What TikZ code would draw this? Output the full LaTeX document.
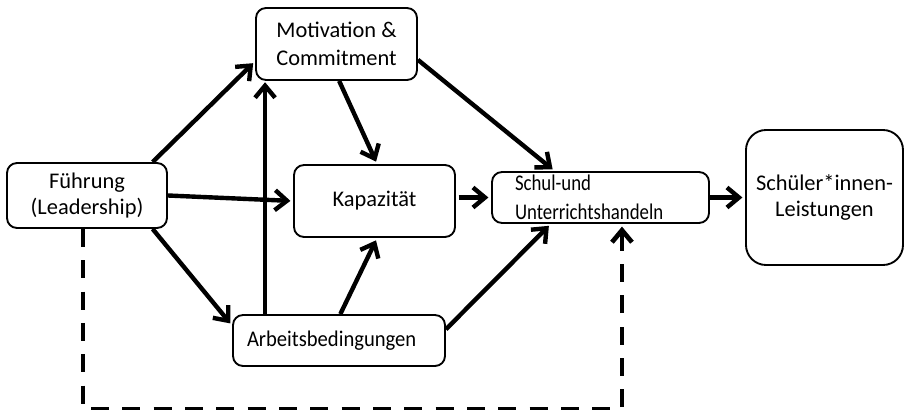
\documentclass[tikz,border=0pt]{standalone}
\usepackage{fontspec}
\setmainfont{Carlito}
\newfontfamily\narrowfont{Carlito}[FakeStretch=0.84]
\newfontfamily\condfont{Carlito}[FakeStretch=0.92]
\usetikzlibrary{arrows.meta,positioning}

\begin{document}
\begin{tikzpicture}[x=0.75pt,y=-0.75pt,
  box/.style={draw,line width=1.4pt,rounded corners=7.5pt,align=center,inner sep=0pt,
    font=\fontsize{16.8}{20}\selectfont},
  arr/.style={line width=3.3pt,-{Straight Barb[length=9pt,width=15pt]},shorten >=2pt},
  dashline/.style={line width=3.5pt,dash pattern=on 13.5pt off 10pt,
    -{Straight Barb[length=9pt,width=15pt]},shorten >=2pt}]
\useasboundingbox (0,0) rectangle (904,410);

% boxes
\node[box,minimum width=120pt,minimum height=48.75pt] (fuehrung) at (87,195.5) {F\"uhrung\\(Leadership)};
\node[box,minimum width=120.75pt,minimum height=54pt,font=\fontsize{16.8}{21}\selectfont] (motivation) at (336.5,44) {Motivation \&\\Commitment};
\node[box,minimum width=120.75pt,minimum height=54pt] (kapazitaet) at (374.5,201) {Kapazit\"at};
\node[box,minimum width=162.75pt,minimum height=38.25pt,text width=128.25pt,inner xsep=17.25pt,align=left,
  font=\narrowfont\fontsize{16.8}{21.75}\selectfont] (schul) at (600.5,197.5) {Schul-und\\Unterrichtshandeln};
\node[box,minimum width=117.75pt,minimum height=101.25pt,rounded corners=15pt] (schueler) at (824.5,197.5) {Sch\"uler*innen-\\Leistungen};
\node[box,minimum width=159pt,minimum height=38.25pt,text width=138pt,inner xsep=10.5pt,align=left,
  font=\condfont\fontsize{16.8}{20}\selectfont] (arbeits) at (339,340.5) {Arbeitsbedingungen};

% arrows
\draw[arr] (fuehrung.27) -- (motivation.192);
\draw[arr] (fuehrung.east) -- (kapazitaet.west);
\draw[arr] (fuehrung.-27) -- (arbeits.172);
\draw[arr,shorten >=1pt] ([xshift=24.75pt]arbeits.north west) -- ([xshift=24.75pt]arbeits.north west |- motivation.south);
\draw[arr] ([xshift=2pt]motivation.south) -- ([xshift=2pt]kapazitaet.north);
\draw[arr] ([xshift=1pt]arbeits.north) -- ([xshift=2pt]kapazitaet.south);
\draw[arr] (motivation.-11) -- (schul.150);
\draw[arr] ([xshift=2pt]kapazitaet.east |- schul.west) -- (schul.west);
\draw[arr] (arbeits.6) -- (schul.208);
\draw[arr] (schul.east) -- (schueler.west);

% dashed feedback
\draw[dashline] ([xshift=-3pt]fuehrung.south) -- ++(0,180) -| ([xshift=16.1pt]schul.south);
\end{tikzpicture}
\end{document}
